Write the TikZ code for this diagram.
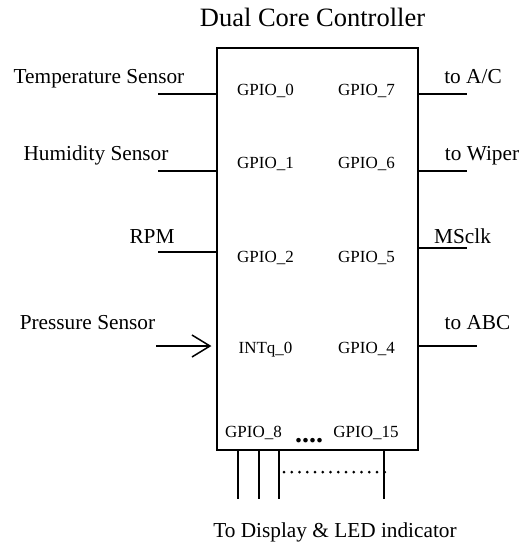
\documentclass[tikz,border=0pt]{standalone}
\usepackage{fontspec}
\setmainfont{Liberation Serif}
\usetikzlibrary{positioning,arrows.meta}

\begin{document}
\begin{tikzpicture}[x=1pt,y=-1pt,line width=1.2pt,>={Straight Barb[length=18pt,width=22pt,line width=1.5pt]},
  every node/.style={inner sep=0pt},
  lbl/.style={font=\fontsize{21.3}{24}\selectfont,anchor=base},
  pin/.style={font=\fontsize{17}{20}\selectfont,anchor=base}]
\useasboundingbox (0,0) rectangle (524,543);
\node[font=\fontsize{26.5}{30}\selectfont,anchor=base] (title) at (312.5,27) {Dual Core Controller};
\node[draw,minimum width=201pt,minimum height=402pt] (ctrl) at (317.5,249) {};
% pins inside the controller
\node[pin] (p0) at (265.5,95) {GPIO\_0};
\node[pin] (p1) at (265.5,168) {GPIO\_1};
\node[pin] (p2) at (265.5,262) {GPIO\_2};
\node[pin] (int0) at (265.5,353) {INTq\_0};
\node[pin] (p7) at (366.5,95) {GPIO\_7};
\node[pin] (p6) at (366.5,168) {GPIO\_6};
\node[pin] (p5) at (366.5,262) {GPIO\_5};
\node[pin] (p4) at (366.5,353) {GPIO\_4};
\node[pin] (p8) at (253.5,437) {GPIO\_8};
\node[pin] (p15) at (366,437) {GPIO\_15};
\node[font=\fontsize{28}{30}\selectfont\bfseries,anchor=base] (pdots) at (309,442) {....};
% inputs
\node[lbl] (temp) at (99,83) {Temperature Sensor};
\node[lbl] (hum) at (96,160) {Humidity Sensor};
\node[lbl] (rpm) at (152,243) {RPM};
\node[lbl] (pres) at (87.5,329) {Pressure Sensor};
\coordinate (inT) at (158,94);
\coordinate (inH) at (158,171);
\coordinate (inR) at (158,252);
\coordinate (inP) at (156,346);
\draw (inT) -- (inT -| ctrl.west);
\draw (inH) -- (inH -| ctrl.west);
\draw (inR) -- (inR -| ctrl.west);
\draw[->] (inP) -- ([xshift=-5pt]inP -| ctrl.west);
% outputs
\node[lbl] (toac) at (473,83) {to A/C};
\node[lbl] (towiper) at (482,160) {to Wiper};
\node[lbl] (msclk) at (462.5,243) {MSclk};
\node[lbl] (toabc) at (477.5,329) {to ABC};
\coordinate (outA) at (467,94);
\coordinate (outW) at (467,171);
\coordinate (outM) at (467,248);
\coordinate (outB) at (477,346);
\draw (outA -| ctrl.east) -- (outA);
\draw (outW -| ctrl.east) -- (outW);
\draw (outM -| ctrl.east) -- (outM);
\draw (outB -| ctrl.east) -- (outB);
% display bus
\foreach \x in {238,259,279,384}
  \draw (\x,0 |- ctrl.south) -- ++(0,48);
\draw[line width=3pt,line cap=round,dash pattern=on 0pt off 7.75pt] (284,472) -- (385,472);
\node[lbl] (disp) at (335,537) {To Display \& LED indicator};
\end{tikzpicture}
\end{document}
